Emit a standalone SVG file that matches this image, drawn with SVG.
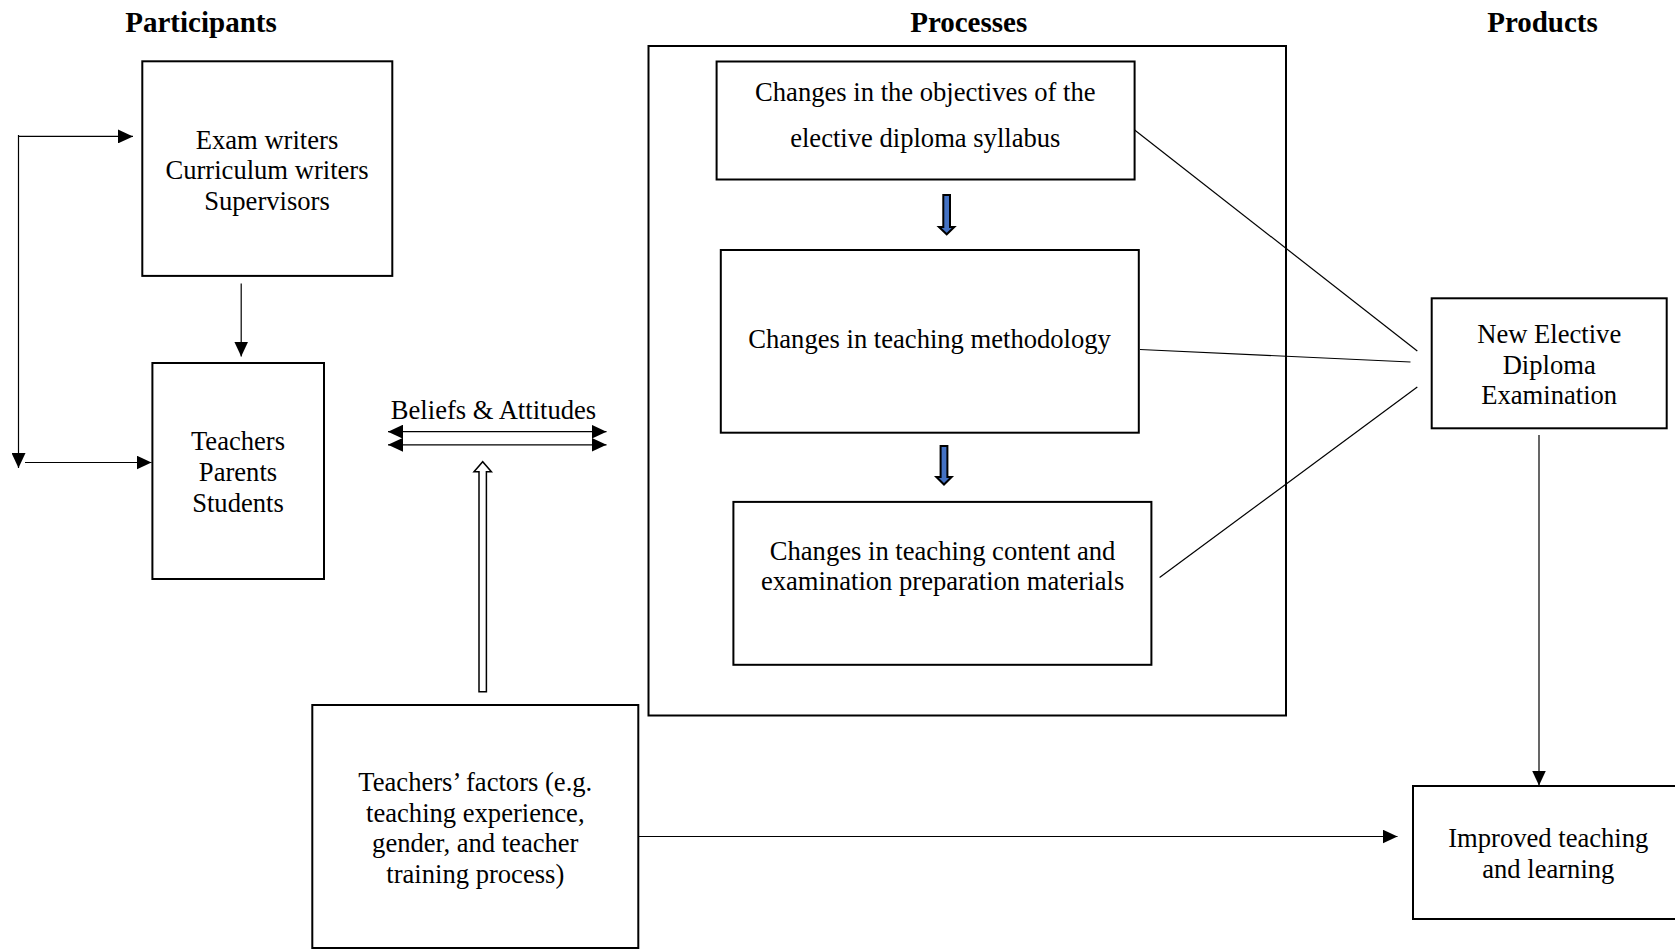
<svg xmlns="http://www.w3.org/2000/svg" width="1675" height="950" viewBox="0 0 1675 950">
<style>
.box{fill:#fff;stroke:#000;stroke-width:2}
.t{font-family:"Liberation Serif","Times New Roman",serif;font-size:26.6px;fill:#000;text-anchor:middle}
.h{font-family:"Liberation Serif","Times New Roman",serif;font-size:29px;font-weight:bold;fill:#000;text-anchor:middle}
.ln{stroke:#000;stroke-width:1.2;fill:none}
.blue{fill:#4472C4;stroke:#000;stroke-width:2}
.hollow{fill:#fff;stroke:#000;stroke-width:1.5}
</style>
<defs>
<marker id="arr" markerUnits="userSpaceOnUse" markerWidth="15" markerHeight="14" refX="15" refY="7" orient="auto-start-reverse" viewBox="0 0 15 14">
<path d="M0,0 L15,7 L0,14 z" fill="#000"/>
</marker>
</defs>
<rect width="1675" height="950" fill="#fff"/>

<g id="headers">
<text class="h" x="201" y="32">Participants</text>
<text class="h" x="968.7" y="32">Processes</text>
<text class="h" x="1542.5" y="32">Products</text>
</g>

<g id="processes-frame">
<rect class="box" x="648.5" y="46" width="637.5" height="669.5"/>
</g>

<g id="connectors">
<line class="ln" x1="18.5" y1="135" x2="18.5" y2="468" marker-end="url(#arr)"/>
<line class="ln" x1="18.5" y1="136.4" x2="133" y2="136.4" marker-end="url(#arr)"/>
<line class="ln" x1="25" y1="462.5" x2="151.5" y2="462.5" marker-end="url(#arr)"/>
<line class="ln" x1="241.2" y1="283.5" x2="241.2" y2="356.5" marker-end="url(#arr)"/>
<line class="ln" x1="388" y1="431.7" x2="606.5" y2="431.7" marker-start="url(#arr)" marker-end="url(#arr)"/>
<line class="ln" x1="388" y1="444.8" x2="606.5" y2="444.8" marker-start="url(#arr)" marker-end="url(#arr)"/>
<polygon class="hollow" points="479,691.7 479,471.7 474,471.7 482.7,461.7 491.4,471.7 486.4,471.7 486.4,691.7"/>
<polygon class="blue" points="943.3,195 950,195 950,227 954.3,227 946.7,234.3 939,227 943.3,227"/>
<polygon class="blue" points="940.6,446 947.4,446 947.4,477 951.6,477 944,484.5 936.4,477 940.6,477"/>
<line class="ln" x1="1129.5" y1="126" x2="1417.3" y2="351"/>
<line class="ln" x1="1140" y1="349.5" x2="1410.5" y2="362"/>
<line class="ln" x1="1159.6" y1="577.5" x2="1417.3" y2="387"/>
<line class="ln" x1="1539" y1="435" x2="1539" y2="785.5" marker-end="url(#arr)"/>
<line class="ln" x1="638" y1="836.5" x2="1397.5" y2="836.5" marker-end="url(#arr)"/>
</g>

<g id="node-exam-writers">
<rect class="box" x="142.3" y="61.3" width="250" height="214.6"/>
<text class="t" x="267" y="148.7">Exam writers</text>
<text class="t" x="267" y="179.3">Curriculum writers</text>
<text class="t" x="267" y="209.9">Supervisors</text>
</g>

<g id="node-teachers">
<rect class="box" x="152.4" y="363" width="171.6" height="216"/>
<text class="t" x="238" y="450">Teachers</text>
<text class="t" x="238" y="481">Parents</text>
<text class="t" x="238" y="512">Students</text>
</g>

<g id="label-beliefs">
<text class="t" x="493.5" y="419.3">Beliefs &amp; Attitudes</text>
</g>

<g id="node-teachers-factors">
<rect class="box" x="312.3" y="705" width="326" height="243"/>
<text class="t" x="475.3" y="791">Teachers’ factors (e.g.</text>
<text class="t" x="475.3" y="821.6">teaching experience,</text>
<text class="t" x="475.3" y="852.2">gender, and teacher</text>
<text class="t" x="475.3" y="882.8">training process)</text>
</g>

<g id="node-objectives">
<rect class="box" x="716.6" y="61.5" width="418" height="118"/>
<text class="t" x="925.3" y="100.5">Changes in the objectives of the</text>
<text class="t" x="925.3" y="147">elective diploma syllabus</text>
</g>

<g id="node-methodology">
<rect class="box" x="720.8" y="250" width="418" height="182.7"/>
<text class="t" x="929.6" y="348.3">Changes in teaching methodology</text>
</g>

<g id="node-content">
<rect class="box" x="733.4" y="501.9" width="418" height="162.9"/>
<text class="t" x="942.6" y="560">Changes in teaching content and</text>
<text class="t" x="942.6" y="590.4">examination preparation materials</text>
</g>

<g id="node-new-exam">
<rect class="box" x="1431.7" y="298.3" width="235" height="130"/>
<text class="t" x="1549.2" y="343.3">New Elective</text>
<text class="t" x="1549.2" y="373.8">Diploma</text>
<text class="t" x="1549.2" y="404.4">Examination</text>
</g>

<g id="node-improved">
<rect class="box" x="1413" y="786" width="270" height="133"/>
<text class="t" x="1548.3" y="847.3">Improved teaching</text>
<text class="t" x="1548.3" y="877.8">and learning</text>
</g>
</svg>
